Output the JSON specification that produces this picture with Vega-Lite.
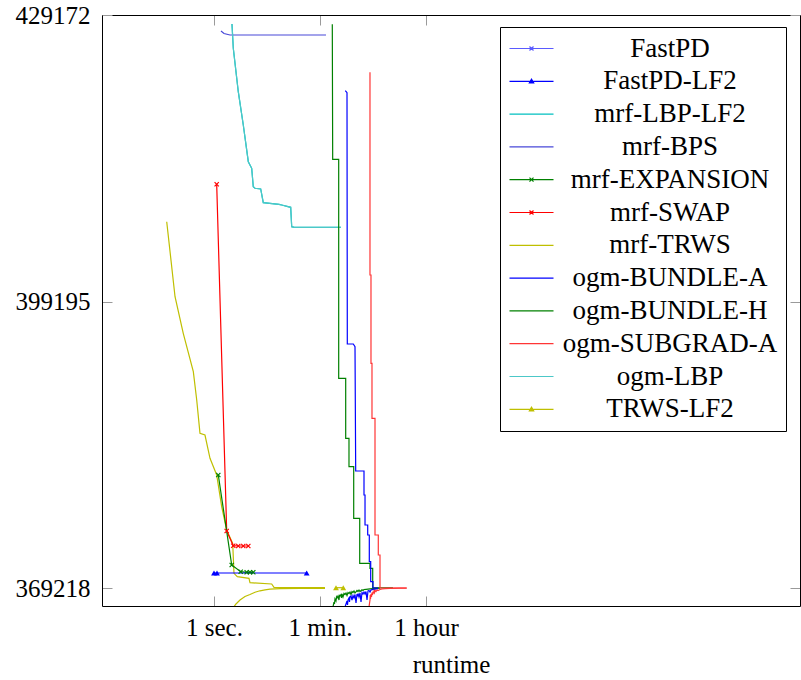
{
  "$schema": "https://vega.github.io/schema/vega-lite/v6.json",
  "width": 698,
  "height": 591,
  "autosize": "none",
  "padding": {"left": 102, "top": 15, "right": 1, "bottom": 74},
  "config": {
    "view": {"stroke": null},
    "font": "Liberation Serif",
    "axis": {"grid": false, "domainColor": "#000000", "domainWidth": 1, "tickColor": "#9a9a9a", "tickWidth": 1, "tickSize": -10,
             "labelFont": "Liberation Serif", "labelFontSize": 25, "labelColor": "#000000",
             "titleFont": "Liberation Serif", "titleFontSize": 25, "titleFontWeight": "normal", "titleColor": "#000000"}
  },
  "data": {"values": [
    {"s": "mrf-BPS", "b": "u", "t": 1.310, "v": 427498},
    {"s": "mrf-BPS", "b": "u", "t": 1.472, "v": 427236},
    {"s": "mrf-BPS", "b": "u", "t": 1.855, "v": 427079},
    {"s": "mrf-BPS", "b": "u", "t": 75.7, "v": 427079},

    {"s": "mrf-LBP-LF2", "b": "u", "t": 2.004, "v": 428230},
    {"s": "mrf-LBP-LF2", "b": "u", "t": 2.108, "v": 425688},
    {"s": "mrf-LBP-LF2", "b": "u", "t": 2.556, "v": 421147},
    {"s": "mrf-LBP-LF2", "b": "u", "t": 3.102, "v": 417663},
    {"s": "mrf-LBP-LF2", "b": "u", "t": 3.765, "v": 413823},
    {"s": "mrf-LBP-LF2", "b": "u", "t": 4.292, "v": 413132},
    {"s": "mrf-LBP-LF2", "b": "u", "t": 4.563, "v": 411207},
    {"s": "mrf-LBP-LF2", "b": "u", "t": 4.875, "v": 411040},
    {"s": "mrf-LBP-LF2", "b": "u", "t": 6.077, "v": 410966},
    {"s": "mrf-LBP-LF2", "b": "u", "t": 6.714, "v": 409533},
    {"s": "mrf-LBP-LF2", "b": "u", "t": 12.33, "v": 409365},
    {"s": "mrf-LBP-LF2", "b": "u", "t": 13.68, "v": 409292},
    {"s": "mrf-LBP-LF2", "b": "u", "t": 19.36, "v": 409052},
    {"s": "mrf-LBP-LF2", "b": "u", "t": 20.13, "v": 407022},
    {"s": "mrf-LBP-LF2", "b": "u", "t": 22.25, "v": 406959},
    {"s": "mrf-LBP-LF2", "b": "u", "t": 135.2, "v": 406959},

    {"s": "ogm-LBP", "b": "u", "t": 2.004, "v": 428230},
    {"s": "ogm-LBP", "b": "u", "t": 2.108, "v": 425688},
    {"s": "ogm-LBP", "b": "u", "t": 2.556, "v": 421147},
    {"s": "ogm-LBP", "b": "u", "t": 3.102, "v": 417663},
    {"s": "ogm-LBP", "b": "u", "t": 3.765, "v": 413823},
    {"s": "ogm-LBP", "b": "u", "t": 4.292, "v": 413132},
    {"s": "ogm-LBP", "b": "u", "t": 4.563, "v": 411207},
    {"s": "ogm-LBP", "b": "u", "t": 4.875, "v": 411040},
    {"s": "ogm-LBP", "b": "u", "t": 6.077, "v": 410966},
    {"s": "ogm-LBP", "b": "u", "t": 6.714, "v": 409533},
    {"s": "ogm-LBP", "b": "u", "t": 12.33, "v": 409365},
    {"s": "ogm-LBP", "b": "u", "t": 13.68, "v": 409292},
    {"s": "ogm-LBP", "b": "u", "t": 19.36, "v": 409052},
    {"s": "ogm-LBP", "b": "u", "t": 20.13, "v": 407022},
    {"s": "ogm-LBP", "b": "u", "t": 22.25, "v": 406959},
    {"s": "ogm-LBP", "b": "u", "t": 135.2, "v": 406959},

    {"s": "mrf-TRWS", "b": "u", "t": 0.161, "v": 407545},
    {"s": "mrf-TRWS", "b": "u", "t": 0.222, "v": 399698},
    {"s": "mrf-TRWS", "b": "u", "t": 0.305, "v": 395868},
    {"s": "mrf-TRWS", "b": "u", "t": 0.450, "v": 391850},
    {"s": "mrf-TRWS", "b": "u", "t": 0.513, "v": 388889},
    {"s": "mrf-TRWS", "b": "u", "t": 0.582, "v": 385405},
    {"s": "mrf-TRWS", "b": "u", "t": 0.706, "v": 385227},
    {"s": "mrf-TRWS", "b": "u", "t": 0.857, "v": 382789},
    {"s": "mrf-TRWS", "b": "u", "t": 1.110, "v": 381042},
    {"s": "mrf-TRWS", "b": "u", "t": 1.346, "v": 377725},
    {"s": "mrf-TRWS", "b": "u", "t": 1.633, "v": 375288},
    {"s": "mrf-TRWS", "b": "u", "t": 2.060, "v": 373896},
    {"s": "mrf-TRWS", "b": "u", "t": 2.166, "v": 370757},
    {"s": "mrf-TRWS", "b": "u", "t": 2.461, "v": 370401},
    {"s": "mrf-TRWS", "b": "u", "t": 3.866, "v": 370233},
    {"s": "mrf-TRWS", "b": "u", "t": 4.018, "v": 369773},
    {"s": "mrf-TRWS", "b": "u", "t": 9.290, "v": 369638},
    {"s": "mrf-TRWS", "b": "u", "t": 10.16, "v": 369292},
    {"s": "mrf-TRWS", "b": "u", "t": 72.8, "v": 369250},

    {"s": "mrf-TRWS", "b": "t", "t": 2.084, "v": 367126},
    {"s": "mrf-TRWS", "b": "t", "t": 2.339, "v": 367545},
    {"s": "mrf-TRWS", "b": "t", "t": 2.731, "v": 367963},
    {"s": "mrf-TRWS", "b": "t", "t": 3.312, "v": 368330},
    {"s": "mrf-TRWS", "b": "t", "t": 4.018, "v": 368539},
    {"s": "mrf-TRWS", "b": "t", "t": 4.875, "v": 368769},
    {"s": "mrf-TRWS", "b": "t", "t": 5.912, "v": 368926},
    {"s": "mrf-TRWS", "b": "t", "t": 7.173, "v": 369031},
    {"s": "mrf-TRWS", "b": "t", "t": 8.707, "v": 369094},
    {"s": "mrf-TRWS", "b": "t", "t": 12.80, "v": 369145},
    {"s": "mrf-TRWS", "b": "t", "t": 27.73, "v": 369176},
    {"s": "mrf-TRWS", "b": "t", "t": 72.8, "v": 369187},

    {"s": "TRWS-LF2", "b": "u", "t": 111.4, "v": 369250},
    {"s": "TRWS-LF2", "b": "u", "t": 147.6, "v": 369250},

    {"s": "mrf-SWAP", "b": "u", "t": 1.110, "v": 411458},
    {"s": "mrf-SWAP", "b": "u", "t": 1.633, "v": 375183},
    {"s": "mrf-SWAP", "b": "u", "t": 2.108, "v": 373645},
    {"s": "mrf-SWAP", "b": "u", "t": 2.556, "v": 373613},
    {"s": "mrf-SWAP", "b": "u", "t": 3.102, "v": 373613},
    {"s": "mrf-SWAP", "b": "u", "t": 3.765, "v": 373613},

    {"s": "mrf-EXPANSION", "b": "u", "t": 1.181, "v": 381042},
    {"s": "mrf-EXPANSION", "b": "u", "t": 1.982, "v": 371625},
    {"s": "mrf-EXPANSION", "b": "u", "t": 2.805, "v": 370924},
    {"s": "mrf-EXPANSION", "b": "u", "t": 3.538, "v": 370862},
    {"s": "mrf-EXPANSION", "b": "u", "t": 4.018, "v": 370862},
    {"s": "mrf-EXPANSION", "b": "u", "t": 4.563, "v": 370862},

    {"s": "FastPD-LF2", "b": "u", "t": 1.0, "v": 370788},
    {"s": "FastPD-LF2", "b": "u", "t": 1.123, "v": 370788},
    {"s": "FastPD-LF2", "b": "u", "t": 35.9, "v": 370788},

    {"s": "ogm-BUNDLE-H", "b": "u", "t": 96.6, "v": 428199},
    {"s": "ogm-BUNDLE-H", "b": "u", "t": 98.1, "v": 414074},
    {"s": "ogm-BUNDLE-H", "b": "u", "t": 123.7, "v": 414074},
    {"s": "ogm-BUNDLE-H", "b": "u", "t": 123.7, "v": 391160},
    {"s": "ogm-BUNDLE-H", "b": "u", "t": 162.1, "v": 391160},
    {"s": "ogm-BUNDLE-H", "b": "u", "t": 162.1, "v": 384882},
    {"s": "ogm-BUNDLE-H", "b": "u", "t": 184.1, "v": 384882},
    {"s": "ogm-BUNDLE-H", "b": "u", "t": 184.1, "v": 381911},
    {"s": "ogm-BUNDLE-H", "b": "u", "t": 220.9, "v": 381911},
    {"s": "ogm-BUNDLE-H", "b": "u", "t": 220.9, "v": 376512},
    {"s": "ogm-BUNDLE-H", "b": "u", "t": 278.6, "v": 376512},
    {"s": "ogm-BUNDLE-H", "b": "u", "t": 278.6, "v": 371803},
    {"s": "ogm-BUNDLE-H", "b": "u", "t": 414.3, "v": 371803},
    {"s": "ogm-BUNDLE-H", "b": "u", "t": 414.3, "v": 371280},
    {"s": "ogm-BUNDLE-H", "b": "u", "t": 460.3, "v": 371280},
    {"s": "ogm-BUNDLE-H", "b": "u", "t": 460.3, "v": 369250},
    {"s": "ogm-BUNDLE-H", "b": "u", "t": 1007, "v": 369240},

    {"s": "ogm-BUNDLE-H", "b": "l", "t": 99.2, "v": 367231},
    {"s": "ogm-BUNDLE-H", "b": "l", "t": 103.1, "v": 367754},
    {"s": "ogm-BUNDLE-H", "b": "l", "t": 105.1, "v": 367545},
    {"s": "ogm-BUNDLE-H", "b": "l", "t": 107.2, "v": 368068},
    {"s": "ogm-BUNDLE-H", "b": "l", "t": 111.4, "v": 367859},
    {"s": "ogm-BUNDLE-H", "b": "l", "t": 113.6, "v": 368276},
    {"s": "ogm-BUNDLE-H", "b": "l", "t": 115.8, "v": 368171},
    {"s": "ogm-BUNDLE-H", "b": "l", "t": 120.4, "v": 368380},
    {"s": "ogm-BUNDLE-H", "b": "l", "t": 125.1, "v": 367963},
    {"s": "ogm-BUNDLE-H", "b": "l", "t": 127.5, "v": 368433},
    {"s": "ogm-BUNDLE-H", "b": "l", "t": 130.0, "v": 368380},
    {"s": "ogm-BUNDLE-H", "b": "l", "t": 135.2, "v": 368537},
    {"s": "ogm-BUNDLE-H", "b": "l", "t": 137.8, "v": 368171},
    {"s": "ogm-BUNDLE-H", "b": "l", "t": 140.5, "v": 368590},
    {"s": "ogm-BUNDLE-H", "b": "l", "t": 146.0, "v": 368276},
    {"s": "ogm-BUNDLE-H", "b": "l", "t": 151.8, "v": 368642},
    {"s": "ogm-BUNDLE-H", "b": "l", "t": 157.8, "v": 368537},
    {"s": "ogm-BUNDLE-H", "b": "l", "t": 164.0, "v": 368694},
    {"s": "ogm-BUNDLE-H", "b": "l", "t": 170.5, "v": 368433},
    {"s": "ogm-BUNDLE-H", "b": "l", "t": 177.2, "v": 368747},
    {"s": "ogm-BUNDLE-H", "b": "l", "t": 184.2, "v": 368642},
    {"s": "ogm-BUNDLE-H", "b": "l", "t": 191.4, "v": 368799},
    {"s": "ogm-BUNDLE-H", "b": "l", "t": 199.0, "v": 368537},
    {"s": "ogm-BUNDLE-H", "b": "l", "t": 206.8, "v": 368851},
    {"s": "ogm-BUNDLE-H", "b": "l", "t": 215.0, "v": 368747},
    {"s": "ogm-BUNDLE-H", "b": "l", "t": 223.4, "v": 368904},
    {"s": "ogm-BUNDLE-H", "b": "l", "t": 232.2, "v": 368694},
    {"s": "ogm-BUNDLE-H", "b": "l", "t": 250.9, "v": 368956},
    {"s": "ogm-BUNDLE-H", "b": "l", "t": 260.8, "v": 368851},
    {"s": "ogm-BUNDLE-H", "b": "l", "t": 271.1, "v": 369008},
    {"s": "ogm-BUNDLE-H", "b": "l", "t": 281.8, "v": 368851},
    {"s": "ogm-BUNDLE-H", "b": "l", "t": 304.4, "v": 369040},
    {"s": "ogm-BUNDLE-H", "b": "l", "t": 316.4, "v": 368956},
    {"s": "ogm-BUNDLE-H", "b": "l", "t": 328.8, "v": 369061},
    {"s": "ogm-BUNDLE-H", "b": "l", "t": 355.3, "v": 369082},
    {"s": "ogm-BUNDLE-H", "b": "l", "t": 383.8, "v": 369103},
    {"s": "ogm-BUNDLE-H", "b": "l", "t": 414.6, "v": 369124},
    {"s": "ogm-BUNDLE-H", "b": "l", "t": 465.6, "v": 369155},
    {"s": "ogm-BUNDLE-H", "b": "l", "t": 522.9, "v": 369176},
    {"s": "ogm-BUNDLE-H", "b": "l", "t": 610.3, "v": 369197},

    {"s": "ogm-BUNDLE-A", "b": "u", "t": 159.6, "v": 421251},
    {"s": "ogm-BUNDLE-A", "b": "u", "t": 170.5, "v": 421042},
    {"s": "ogm-BUNDLE-A", "b": "u", "t": 172.5, "v": 394749},
    {"s": "ogm-BUNDLE-A", "b": "u", "t": 217.5, "v": 394749},
    {"s": "ogm-BUNDLE-A", "b": "u", "t": 232.3, "v": 394466},
    {"s": "ogm-BUNDLE-A", "b": "u", "t": 238.6, "v": 381461},
    {"s": "ogm-BUNDLE-A", "b": "u", "t": 328.8, "v": 381461},
    {"s": "ogm-BUNDLE-A", "b": "u", "t": 328.8, "v": 378950},
    {"s": "ogm-BUNDLE-A", "b": "u", "t": 342.0, "v": 378950},
    {"s": "ogm-BUNDLE-A", "b": "u", "t": 342.0, "v": 375811},
    {"s": "ogm-BUNDLE-A", "b": "u", "t": 379.4, "v": 375811},
    {"s": "ogm-BUNDLE-A", "b": "u", "t": 379.4, "v": 374764},
    {"s": "ogm-BUNDLE-A", "b": "u", "t": 403.6, "v": 374764},
    {"s": "ogm-BUNDLE-A", "b": "u", "t": 403.6, "v": 371971},
    {"s": "ogm-BUNDLE-A", "b": "u", "t": 425.9, "v": 371971},
    {"s": "ogm-BUNDLE-A", "b": "u", "t": 425.9, "v": 369878},
    {"s": "ogm-BUNDLE-A", "b": "u", "t": 465.6, "v": 369878},
    {"s": "ogm-BUNDLE-A", "b": "u", "t": 465.6, "v": 369218},
    {"s": "ogm-BUNDLE-A", "b": "u", "t": 564.9, "v": 369218},

    {"s": "ogm-BUNDLE-A", "b": "l", "t": 157.8, "v": 367231},
    {"s": "ogm-BUNDLE-A", "b": "l", "t": 170.5, "v": 367859},
    {"s": "ogm-BUNDLE-A", "b": "l", "t": 173.8, "v": 367440},
    {"s": "ogm-BUNDLE-A", "b": "l", "t": 177.2, "v": 367963},
    {"s": "ogm-BUNDLE-A", "b": "l", "t": 184.2, "v": 368171},
    {"s": "ogm-BUNDLE-A", "b": "l", "t": 187.8, "v": 367754},
    {"s": "ogm-BUNDLE-A", "b": "l", "t": 191.4, "v": 368276},
    {"s": "ogm-BUNDLE-A", "b": "l", "t": 199.0, "v": 368380},
    {"s": "ogm-BUNDLE-A", "b": "l", "t": 206.8, "v": 367963},
    {"s": "ogm-BUNDLE-A", "b": "l", "t": 215.0, "v": 368433},
    {"s": "ogm-BUNDLE-A", "b": "l", "t": 223.4, "v": 368171},
    {"s": "ogm-BUNDLE-A", "b": "l", "t": 232.2, "v": 368537},
    {"s": "ogm-BUNDLE-A", "b": "l", "t": 241.4, "v": 367650},
    {"s": "ogm-BUNDLE-A", "b": "l", "t": 250.9, "v": 368590},
    {"s": "ogm-BUNDLE-A", "b": "l", "t": 255.8, "v": 368328},
    {"s": "ogm-BUNDLE-A", "b": "l", "t": 260.8, "v": 368642},
    {"s": "ogm-BUNDLE-A", "b": "l", "t": 271.1, "v": 368276},
    {"s": "ogm-BUNDLE-A", "b": "l", "t": 281.8, "v": 368694},
    {"s": "ogm-BUNDLE-A", "b": "l", "t": 292.9, "v": 367754},
    {"s": "ogm-BUNDLE-A", "b": "l", "t": 304.4, "v": 368747},
    {"s": "ogm-BUNDLE-A", "b": "l", "t": 316.4, "v": 368590},
    {"s": "ogm-BUNDLE-A", "b": "l", "t": 328.8, "v": 368799},
    {"s": "ogm-BUNDLE-A", "b": "l", "t": 341.8, "v": 368590},
    {"s": "ogm-BUNDLE-A", "b": "l", "t": 355.3, "v": 368851},
    {"s": "ogm-BUNDLE-A", "b": "l", "t": 369.3, "v": 367963},
    {"s": "ogm-BUNDLE-A", "b": "l", "t": 383.8, "v": 368904},
    {"s": "ogm-BUNDLE-A", "b": "l", "t": 398.9, "v": 368956},
    {"s": "ogm-BUNDLE-A", "b": "l", "t": 414.6, "v": 368799},
    {"s": "ogm-BUNDLE-A", "b": "l", "t": 431.0, "v": 369008},
    {"s": "ogm-BUNDLE-A", "b": "l", "t": 448.0, "v": 369040},
    {"s": "ogm-BUNDLE-A", "b": "l", "t": 484.0, "v": 369071},
    {"s": "ogm-BUNDLE-A", "b": "l", "t": 522.9, "v": 369113},
    {"s": "ogm-BUNDLE-A", "b": "l", "t": 564.9, "v": 369155},

    {"s": "ogm-SUBGRAD-A", "b": "u", "t": 414.3, "v": 423177},
    {"s": "ogm-SUBGRAD-A", "b": "u", "t": 414.3, "v": 401968},
    {"s": "ogm-SUBGRAD-A", "b": "u", "t": 430.7, "v": 401968},
    {"s": "ogm-SUBGRAD-A", "b": "u", "t": 430.7, "v": 392729},
    {"s": "ogm-SUBGRAD-A", "b": "u", "t": 447.7, "v": 392729},
    {"s": "ogm-SUBGRAD-A", "b": "u", "t": 447.7, "v": 386975},
    {"s": "ogm-SUBGRAD-A", "b": "u", "t": 503.0, "v": 386975},
    {"s": "ogm-SUBGRAD-A", "b": "u", "t": 503.0, "v": 374764},
    {"s": "ogm-SUBGRAD-A", "b": "u", "t": 571.2, "v": 374764},
    {"s": "ogm-SUBGRAD-A", "b": "u", "t": 571.2, "v": 372672},
    {"s": "ogm-SUBGRAD-A", "b": "u", "t": 610.3, "v": 372672},
    {"s": "ogm-SUBGRAD-A", "b": "u", "t": 610.3, "v": 369218},
    {"s": "ogm-SUBGRAD-A", "b": "u", "t": 1712, "v": 369218},

    {"s": "ogm-SUBGRAD-A", "b": "l", "t": 398.9, "v": 367231},
    {"s": "ogm-SUBGRAD-A", "b": "l", "t": 414.6, "v": 367963},
    {"s": "ogm-SUBGRAD-A", "b": "l", "t": 418.6, "v": 368485},
    {"s": "ogm-SUBGRAD-A", "b": "l", "t": 422.7, "v": 368068},
    {"s": "ogm-SUBGRAD-A", "b": "l", "t": 431.0, "v": 368590},
    {"s": "ogm-SUBGRAD-A", "b": "l", "t": 439.4, "v": 368276},
    {"s": "ogm-SUBGRAD-A", "b": "l", "t": 448.0, "v": 368747},
    {"s": "ogm-SUBGRAD-A", "b": "l", "t": 456.7, "v": 368485},
    {"s": "ogm-SUBGRAD-A", "b": "l", "t": 465.6, "v": 368851},
    {"s": "ogm-SUBGRAD-A", "b": "l", "t": 474.8, "v": 368642},
    {"s": "ogm-SUBGRAD-A", "b": "l", "t": 484.0, "v": 368904},
    {"s": "ogm-SUBGRAD-A", "b": "l", "t": 493.4, "v": 368747},
    {"s": "ogm-SUBGRAD-A", "b": "l", "t": 503.0, "v": 368956},
    {"s": "ogm-SUBGRAD-A", "b": "l", "t": 522.9, "v": 368851},
    {"s": "ogm-SUBGRAD-A", "b": "l", "t": 543.5, "v": 369008},
    {"s": "ogm-SUBGRAD-A", "b": "l", "t": 564.9, "v": 368956},
    {"s": "ogm-SUBGRAD-A", "b": "l", "t": 610.3, "v": 369061},
    {"s": "ogm-SUBGRAD-A", "b": "l", "t": 659.4, "v": 369113},
    {"s": "ogm-SUBGRAD-A", "b": "l", "t": 740.3, "v": 369145},
    {"s": "ogm-SUBGRAD-A", "b": "l", "t": 898.6, "v": 369176},
    {"s": "ogm-SUBGRAD-A", "b": "l", "t": 1321, "v": 369197},
    {"s": "ogm-SUBGRAD-A", "b": "l", "t": 1712, "v": 369208}
  ]},
  "encoding": {
    "x": {"field": "t", "type": "quantitative",
          "scale": {"type": "log", "domain": [0.01321, 6.8e9], "nice": false}},
    "y": {"field": "v", "type": "quantitative",
          "scale": {"domain": [367335, 429172], "nice": false, "zero": false}},
    "color": {"field": "s", "type": "nominal",
              "scale": {"domain": ["FastPD", "FastPD-LF2", "mrf-LBP-LF2", "mrf-BPS", "mrf-EXPANSION", "mrf-SWAP", "mrf-TRWS", "ogm-BUNDLE-A", "ogm-BUNDLE-H", "ogm-SUBGRAD-A", "ogm-LBP", "TRWS-LF2"],
                        "range": ["#5a5aff", "#0000ff", "#00bfbf", "#4848d8", "#008000", "#ff0000", "#bfbf00", "#0000ff", "#008000", "#ff3535", "#4cc8c8", "#bfbf00"]},
              "legend": null}
  },
  "layer": [
    {
      "mark": {"type": "line", "clip": true},
      "encoding": {
        "x": {"field": "t", "type": "quantitative",
              "axis": {"orient": "bottom", "values": [1, 60, 3600], "title": "runtime", "labelPadding": 19, "titlePadding": 12,
                       "labelExpr": "datum.value == 1 ? '1 sec.' : datum.value == 60 ? '1 min.' : '1 hour'"}},
        "y": {"field": "v", "type": "quantitative",
              "axis": {"orient": "left", "values": [369218, 399195, 429172], "format": "d", "title": null, "labelPadding": 22}},
        "detail": {"field": "b", "type": "nominal"},
        "strokeWidth": {"field": "b", "type": "nominal", "scale": {"domain": ["u", "t", "l"], "range": [1.2, 1.2, 1.7]}, "legend": null},
        "order": {"value": null},
        "color": {"field": "s", "type": "nominal",
                  "legend": {
                    "title": null, "orient": "none", "legendX": 398, "legendY": 12,
                    "strokeColor": "#000000", "fillColor": "#ffffff", "padding": 8, "rowPadding": 4.8,
                    "symbolType": "M-1.2,0H3.2", "symbolSize": 400, "symbolStrokeWidth": 1.2,
                    "labelFont": "Liberation Serif", "labelFontSize": 27, "labelColor": "#000000",
                    "labelAlign": "center", "labelOffset": 135, "labelLimit": 400,
                    "encode": {"symbols": {"update": {"shape": {"signal": "indexof(['FastPD','mrf-EXPANSION','mrf-SWAP'], datum.value) >= 0 ? 'M-1.2,0H3.2M0.8,-0.2L1.2,0.2M0.8,0.2L1.2,-0.2' : (indexof(['FastPD-LF2','TRWS-LF2'], datum.value) >= 0 ? 'M-1.2,0H3.2M0.78,0.17L1.0,-0.22L1.22,0.17Z' : 'M-1.2,0H3.2')"}}}}
                  }}
      }
    },
    {
      "transform": [{"filter": {"field": "s", "oneOf": ["mrf-SWAP", "mrf-EXPANSION"]}}],
      "mark": {"type": "point", "shape": "M-1,-1L1,1M-1,1L1,-1", "size": 18, "filled": false, "strokeWidth": 1.2, "opacity": 1, "clip": true},
      "encoding": {
        "x": {"field": "t", "type": "quantitative",
              "axis": {"orient": "top", "values": [1, 60, 3600], "labels": false, "title": null}},
        "y": {"field": "v", "type": "quantitative",
              "axis": {"orient": "right", "values": [369218, 399195, 429172], "labels": false, "title": null}}
      }
    },
    {
      "transform": [{"filter": {"field": "s", "oneOf": ["FastPD-LF2", "TRWS-LF2"]}}],
      "mark": {"type": "point", "shape": "triangle-up", "size": 34, "filled": true, "opacity": 1, "clip": true},
      "encoding": {
        "x": {"field": "t", "type": "quantitative", "axis": null},
        "y": {"field": "v", "type": "quantitative", "axis": null}
      }
    }
  ],
  "resolve": {"axis": {"x": "independent", "y": "independent"}}
}
